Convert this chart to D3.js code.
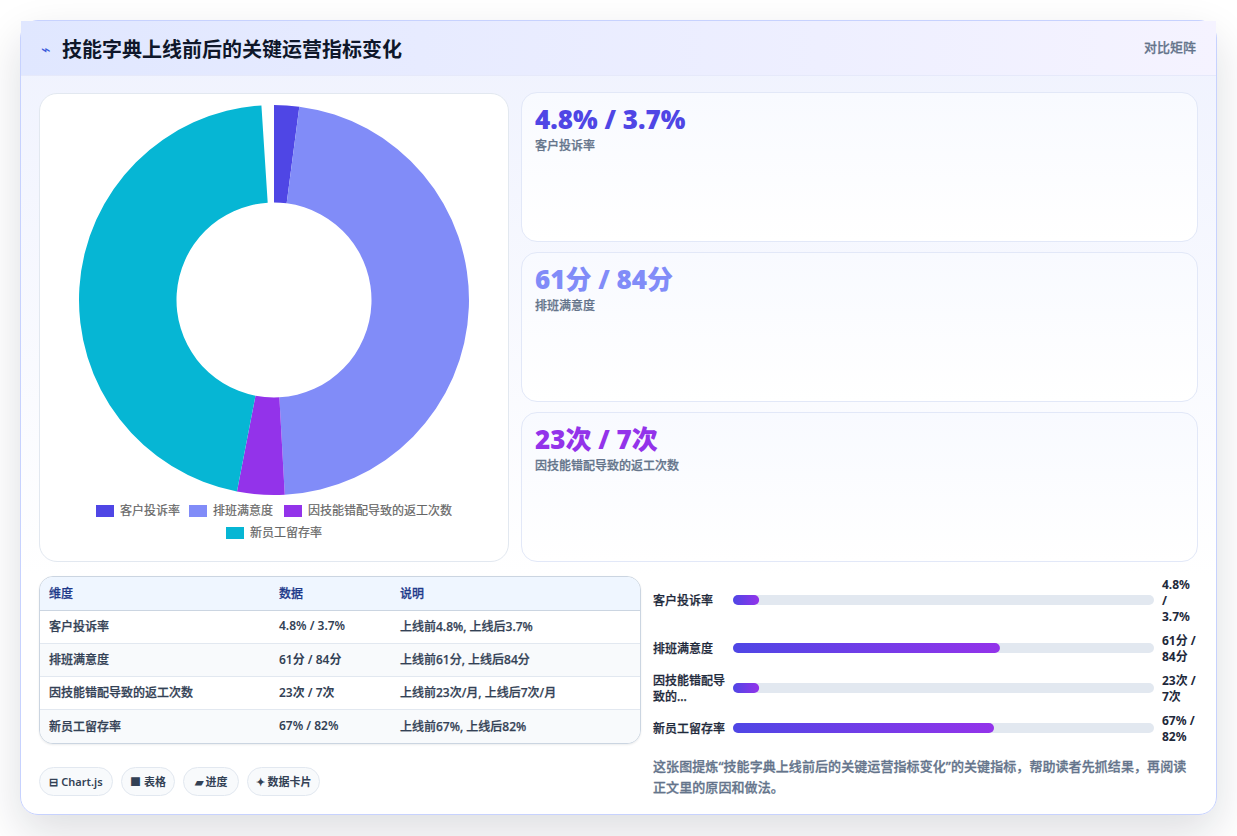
<!DOCTYPE html>
<html lang="zh">
<head>
<meta charset="utf-8">
<script src="https://cdn.jsdelivr.net/npm/d3@7"></script>
<style>
*{box-sizing:border-box;margin:0;padding:0}
html,body{width:1237px;height:836px;overflow:hidden;background:#fff;font-family:"Noto Sans","Noto Sans CJK SC",sans-serif}
#card{position:absolute;left:20px;top:20px;width:1197px;height:795px;border:1px solid #c7d2fe;border-radius:18px;
 background:linear-gradient(180deg,#eff2fe 0%,#fff 70%);box-shadow:0 18px 45px rgba(15,23,42,.14)}
#head{position:absolute;left:0;top:0;right:0;height:55px;background:linear-gradient(90deg,#e0e7ff,#f5f3ff);border-bottom:1px solid #e6e9fa}
#head .ico{position:absolute;left:20px;top:17px;font-size:16px;color:#3b5bdb}
#head h1{position:absolute;left:41px;top:15px;font-size:20px;line-height:28px;font-weight:700;color:#0f172a}
#head .tag{position:absolute;right:20px;top:17px;font-size:13px;line-height:18px;color:#64748b;font-weight:500;-webkit-text-stroke:.25px #64748b}
#donut{position:absolute;left:18px;top:72px;width:470px;height:469px;background:#fff;border:1px solid #e2e8f0;border-radius:18px}
.kpi{position:absolute;left:500px;width:677px;height:150px;background:linear-gradient(180deg,#f8faff,#fff);border:1px solid #e2e8f8;border-radius:16px}
.kpi .v{position:absolute;left:13px;top:8px;font-size:26px;line-height:36px;font-weight:900}
.kpi .l{position:absolute;left:13px;top:44px;font-size:12px;line-height:17px;color:#64748b;font-weight:500;-webkit-text-stroke:.25px #64748b}
#tbl{position:absolute;left:18px;top:555px;width:602px;height:168px;border:1px solid #cbd5e1;border-radius:14px;overflow:hidden;background:#fff;box-shadow:0 1px 2px rgba(15,23,42,.08)}
#tbl table{width:100%;border-collapse:collapse;font-size:12px;table-layout:fixed}
#tbl th{height:33px;text-align:left;padding-left:9px;font-weight:500;-webkit-text-stroke:.25px #1e3a8a;color:#1e3a8a;background:#eff6ff;border-bottom:1px solid #cbd5e1}
#tbl td{height:33.3px;padding:0 0 2px 9px;color:#334155;font-weight:500;-webkit-text-stroke:.25px #334155;border-bottom:1px solid #e2e8f0}
#tbl td:nth-child(2){font-weight:600;-webkit-text-stroke:0}
#tbl tr:nth-child(even) td{background:#f8fafc}
#tbl tr:last-child td{border-bottom:none}
.chip{position:absolute;top:746px;height:29px;border:1px solid #e2e8f0;border-radius:15px;background:#f8fafc;font-size:11px;line-height:27px;text-align:center;color:#334155;font-weight:600;white-space:nowrap}
.barlab{position:absolute;left:632px;width:76px;font-size:12px;line-height:16px;color:#1e293b;font-weight:500;-webkit-text-stroke:.25px #1e293b}
.barval{position:absolute;left:1141px;width:44px;font-size:12px;line-height:16px;color:#1e293b;font-weight:700}
#note{position:absolute;left:632px;top:735px;width:540px;font-size:13px;line-height:20.8px;letter-spacing:.08px;color:#64748b;font-weight:500;-webkit-text-stroke:.3px #64748b}
svg{position:absolute;left:0;top:0}
</style>
</head>
<body>
<div id="card">
  <div id="head"><span class="ico">⌁</span><h1></h1><span class="tag"></span></div>
  <div id="donut"></div>
  <div id="tbl"></div>
  <div id="note"></div>
</div>
<script>
const chartTitle = "技能字典上线前后的关键运营指标变化";
const headerTag = "对比矩阵";
const categories = ["客户投诉率", "排班满意度", "因技能错配导致的返工次数", "新员工留存率"];
const barLabels = [["客户投诉率"], ["排班满意度"], ["因技能错配导", "致的..."], ["新员工留存率"]];
const afterValues = [3.7, 84, 7, 82];
const pieColors = ["#4f46e5", "#818cf8", "#9333ea", "#06b6d4"];
const metricTexts = ["4.8% / 3.7%", "61分 / 84分", "23次 / 7次", "67% / 82%"];
const metricNotes = ["上线前4.8%, 上线后3.7%", "上线前61分, 上线后84分", "上线前23次/月, 上线后7次/月", "上线前67%, 上线后82%"];
const tableHeads = ["维度", "数据", "说明"];
const barPercents = [6.2, 63.4, 6.2, 62];
const barValueLines = [["4.8%", "/", "3.7%"], ["61分 /", "84分"], ["23次 /", "7次"], ["67% /", "82%"]];
const chipTexts = ["⊟ Chart.js", "■ 表格", "▰ 进度", "✦ 数据卡片"];
const noteText = "这张图提炼“技能字典上线前后的关键运营指标变化”的关键指标，帮助读者先抓结果，再阅读正文里的原因和做法。";

const card = d3.select("#card");
d3.select("#head h1").text(chartTitle);
d3.select("#head .tag").text(headerTag);

// Doughnut: the sweep stops a little short of the full circle.
const sweepEnd = 356.3 * Math.PI / 180;
const pie = d3.pie().sort(null).startAngle(0).endAngle(sweepEnd);
const arc = d3.arc().innerRadius(97.5).outerRadius(195);
const donut = d3.select("#donut").append("svg").attr("width", 468).attr("height", 467);
donut.append("g").attr("transform", "translate(234,206)")
  .selectAll("path").data(pie(afterValues)).join("path")
  .attr("d", arc).attr("fill", (d, i) => pieColors[i]);

// Legend in two centred rows
const legendRows = [[0, 1, 2], [3]];
const legendX = [[56, 149, 244], [186]];
legendRows.forEach((row, r) => {
  row.forEach((idx, k) => {
    const g = donut.append("g").attr("transform", `translate(${legendX[r][k]},${411 + r * 22})`);
    g.append("rect").attr("width", 18).attr("height", 12).attr("fill", pieColors[idx]);
    g.append("text").attr("x", 24).attr("y", 9.5).attr("font-size", 12).attr("fill", "#666")
      .attr("stroke", "#666").attr("stroke-width", 0.2).text(categories[idx]);
  });
});

// Metric cards
card.selectAll(".kpi").data(categories.slice(0, 3)).join("div").attr("class", "kpi")
  .style("top", (d, i) => (71 + i * 160) + "px")
  .each(function (d, i) {
    const c = d3.select(this);
    c.append("div").attr("class", "v").style("color", pieColors[i]).text(metricTexts[i]);
    c.append("div").attr("class", "l").text(d);
  });

// Table
const table = d3.select("#tbl").append("table");
const colgroup = table.append("colgroup");
[230, 121, 251].forEach(w => colgroup.append("col").style("width", w + "px"));
table.append("thead").append("tr").selectAll("th").data(tableHeads).join("th").text(d => d);
table.append("tbody").selectAll("tr").data(categories).join("tr")
  .selectAll("td").data((d, i) => [d, metricTexts[i], metricNotes[i]]).join("td").text(d => d);

// Progress bars
const barScale = d3.scaleLinear().domain([0, 100]).range([0, 421]);
const barY = [574, 622, 662, 702];
const svgBars = card.append("svg").attr("width", 1195).attr("height", 793).style("pointer-events", "none");
const grad = svgBars.append("defs").append("linearGradient").attr("id", "fillGrad");
grad.append("stop").attr("offset", 0).attr("stop-color", "#4f46e5");
grad.append("stop").attr("offset", 1).attr("stop-color", "#9333ea");
categories.forEach((c, i) => {
  svgBars.append("rect").attr("x", 712).attr("y", barY[i]).attr("width", barScale(100)).attr("height", 10).attr("rx", 5).attr("fill", "#e2e8f0");
  svgBars.append("rect").attr("x", 712).attr("y", barY[i]).attr("width", barScale(barPercents[i])).attr("height", 10).attr("rx", 5).attr("fill", "url(#fillGrad)");
  const lab = barLabels[i], vals = barValueLines[i];
  card.append("div").attr("class", "barlab").style("top", (barY[i] + 6 - lab.length * 8) + "px").html(lab.join("<br>"));
  card.append("div").attr("class", "barval").style("top", (barY[i] + 6 - vals.length * 8) + "px").html(vals.join("<br>"));
});

// Chips
const chipX = [18, 100, 162, 226];
const chipW = [74, 54, 56, 73];
card.selectAll(".chip").data(chipTexts).join("div").attr("class", "chip")
  .style("left", (d, i) => chipX[i] + "px").style("width", (d, i) => chipW[i] + "px").text(d => d);

d3.select("#note").text(noteText);
</script>
</body>
</html>
